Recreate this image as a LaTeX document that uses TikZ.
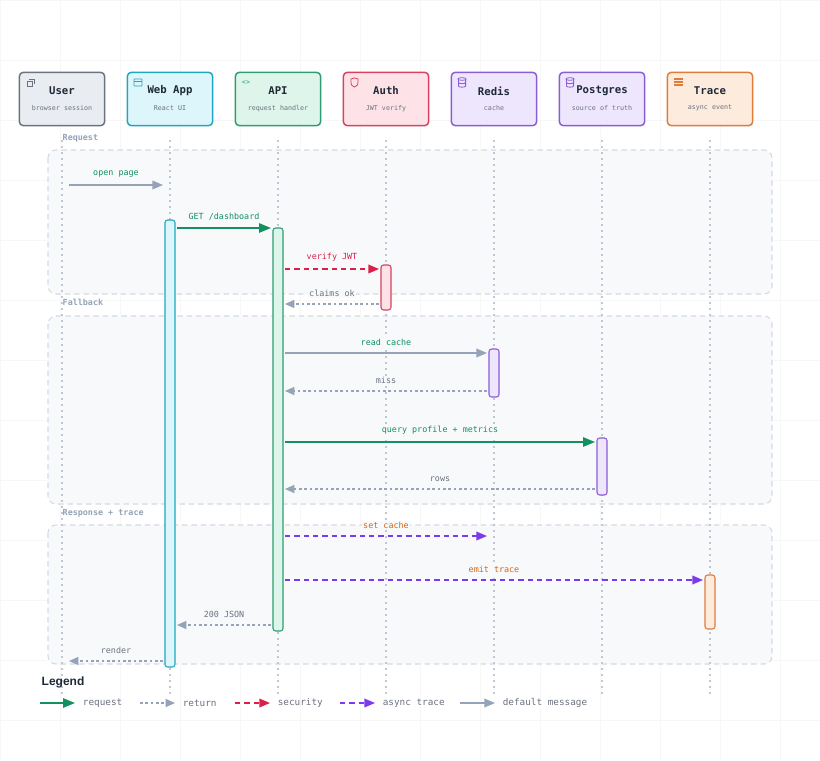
\documentclass[tikz,border=0pt]{standalone}
\usepackage{fontspec}
\setmainfont{DejaVu Sans Mono}
\newfontfamily\legendfont{Liberation Sans}
\usepackage{tikz}
\usetikzlibrary{positioning,arrows.meta}

\definecolor{ink}{HTML}{1F2937}
\definecolor{muted}{HTML}{6B7280}
\definecolor{slate}{HTML}{94A3B8}
\definecolor{usr}{HTML}{6B7280}   \definecolor{usrbg}{HTML}{E9ECF1}
\definecolor{web}{HTML}{22A6C0}   \definecolor{webbg}{HTML}{DDF6FB}
\definecolor{api}{HTML}{2E9E72}   \definecolor{apibg}{HTML}{DDF5EA}
\definecolor{auth}{HTML}{D9415F}  \definecolor{authbg}{HTML}{FDE3E8}
\definecolor{db}{HTML}{8B5CD6}    \definecolor{dbbg}{HTML}{EDE6FD}
\definecolor{trc}{HTML}{E07B3A}   \definecolor{trcbg}{HTML}{FDEBDD}
\definecolor{req}{HTML}{12905E}
\definecolor{sec}{HTML}{DC1F4A}
\definecolor{asy}{HTML}{7C3AED}
\definecolor{warm}{HTML}{D9650F}
\definecolor{grpbg}{HTML}{F7F9FB}

\begin{document}
\begin{tikzpicture}[%
    x=0.75pt,
    y=-0.75pt,
    >=Triangle,
    actor/.style={%
      draw,
      line width=1.1pt,
      rounded corners=3pt,
      minimum width=64pt,
      minimum height=40pt
    },
    title/.style={font=\bfseries\fontsize{8}{9}\selectfont, text=ink},
    sub/.style={font=\fontsize{5}{6}\selectfont, text=muted},
    lifeline/.style={slate!60, line width=0.9pt, dash pattern=on 1.5pt off 3pt},
    group/.style={draw=slate!40, fill=grpbg, line width=0.8pt, dash pattern=on 4pt off 3pt, rounded corners=6pt},
    grouplabel/.style={font=\bfseries\fontsize{6.3}{7}\selectfont, text=slate, anchor=west},
    act/.style={line width=0.8pt, rounded corners=2pt},
    lbl/.style={font=\fontsize{6.3}{7}\selectfont, fill=grpbg, inner sep=1pt},
    request/.style={->, req, line width=1.3pt, -{Triangle[length=9pt,width=7pt]}},
    return/.style={->, slate, line width=1pt, dash pattern=on 2pt off 2pt, -{Triangle[length=7pt,width=6pt]}},
    security/.style={->, sec, line width=1.1pt, dash pattern=on 4pt off 3pt, -{Triangle[length=8pt,width=6.5pt]}},
    async/.style={->, asy, line width=1.1pt, dash pattern=on 4pt off 3pt, -{Triangle[length=8pt,width=6.5pt]}},
    plain/.style={->, slate, line width=1.1pt, -{Triangle[length=8pt,width=6.5pt]}}
  ]
    % background
    \fill[white] (0,0) rectangle (820,760);
    \useasboundingbox (0,0) rectangle (820,760);
    \foreach \gx in {0,60,...,780} \draw[black!3] (\gx,0) -- (\gx,760);
    \foreach \gy in {0,60,...,720} \draw[black!3] (0,\gy) -- (820,\gy);

    % groups
    \draw[group] (48,150) rectangle (772,294);
    \draw[group] (48,316) rectangle (772,504);
    \draw[group] (48,525) rectangle (772,664);
    \node[grouplabel] (gReq)  at (58,138) {Request};
    \node[grouplabel] (gFall) at (58,302) {Fallback};
    \node[grouplabel] (gResp) at (58,513) {Response + trace};

    % lifelines
    \foreach \lx in {62,170,278,386,494,602,710}
      \draw[lifeline] (\lx,140) -- (\lx,695);

    % actors
    \node[actor, draw=usr,  fill=usrbg]  (user) at (62,99)  {};
    \node[actor, draw=web,  fill=webbg]  (web)  at (170,99) {};
    \node[actor, draw=api,  fill=apibg]  (api)  at (278,99) {};
    \node[actor, draw=auth, fill=authbg] (auth) at (386,99) {};
    \node[actor, draw=db,   fill=dbbg]   (redis) at (494,99) {};
    \node[actor, draw=db,   fill=dbbg]   (pg)   at (602,99) {};
    \node[actor, draw=trc,  fill=trcbg]  (trace) at (710,99) {};
    \foreach \n/\t/\s in {user/User/browser session, web/Web App/React UI, api/API/request handler,
        auth/Auth/JWT verify, redis/Redis/cache, pg/Postgres/source of truth, trace/Trace/async event}{
      \node[title] at ([yshift=6pt]\n.center) {\t};
      \node[sub]   at ([yshift=-7pt]\n.center) {\s};
    }
    % icons
    \draw[usr, line width=0.6pt] (27,81) rectangle (32,86) (29,79) -- (34,79) -- (34,84);
    \draw[web, line width=0.6pt, rounded corners=0.5pt] (134,79) rectangle (142,86) (134,81.5) -- (142,81.5);
    \node[text=api, font=\fontsize{5}{5}\selectfont] at (246,83) {<>};
    \draw[auth, line width=0.6pt] (351,79) -- (354.5,78) -- (358,79) -- (358,82) .. controls (358,85) .. (354.5,87) .. controls (351,85) .. (351,82) -- cycle;
    \foreach \ix in {462,570}
      \draw[db, line width=0.6pt] (\ix,79) ellipse (3pt and 1pt) (\ix-3.6,79) -- (\ix-3.6,86) arc[start angle=180,end angle=360,x radius=3.6,y radius=-1.2] -- (\ix+3.6,79) (\ix-3.6,82.5) arc[start angle=180,end angle=360,x radius=3.6,y radius=-1.2];
    \foreach \iy in {79,82,85} \draw[trc, line width=0.8pt] (674,\iy) -- (683,\iy);

    % activations
    \draw[act, draw=web,  fill=webbg]  (165,220) rectangle (175,667);
    \draw[act, draw=api,  fill=apibg]  (273,228) rectangle (283,631);
    \draw[act, draw=auth, fill=authbg] (381,265) rectangle (391,310);
    \draw[act, draw=db,   fill=dbbg]   (489,349) rectangle (499,397);
    \draw[act, draw=db,   fill=dbbg]   (597,438) rectangle (607,495);
    \draw[act, draw=trc,  fill=trcbg]  (705,575) rectangle (715,629);

    % message end points
    \foreach \m/\ya in {a/185,b/228,c/269,d/304,e/353,f/391,g/442,h/489,i/536,j/580,k/625,l/661}{
      \coordinate (u\m) at (69,\ya);  \coordinate (w\m) at (163,\ya);
      \coordinate (wr\m) at (177,\ya); \coordinate (p\m) at (285,\ya);
      \coordinate (pl\m) at (271,\ya); \coordinate (au\m) at (379,\ya);
      \coordinate (r\m) at (487,\ya); \coordinate (s\m) at (595,\ya);
      \coordinate (t\m) at (703,\ya);
    }

    % messages
    \draw[plain]    (ua) -- node[lbl, text=req, above=4pt] {open page} (wa);
    \draw[request]  (wrb) -- node[lbl, text=req, above=4pt] {GET /dashboard} (plb);
    \draw[security] (pc) -- node[lbl, text=sec, above=4pt] {verify JWT} (auc);
    \draw[return]   (aud) -- node[lbl, text=muted, above=4pt] {claims ok} (pd);
    \draw[plain]    (pe) -- node[lbl, text=req, above=4pt] {read cache} (re);
    \draw[return]   (rf) -- node[lbl, text=muted, above=4pt] {miss} (pf);
    \draw[request]  (pg) -- node[lbl, text=req, above=4pt] {query profile + metrics} (sg);
    \draw[return]   (sh) -- node[lbl, text=muted, above=4pt] {rows} (ph);
    \draw[async]    (pi) -- node[lbl, text=warm, above=4pt] {set cache} (ri);
    \draw[async]    (pj) -- node[lbl, text=warm, above=4pt] {emit trace} (tj);
    \draw[return]   (plk) -- node[lbl, text=muted, above=4pt] {200 JSON} (wrk);
    \draw[return]   (wl) -- node[lbl, text=muted, above=4pt] {render} (ul);

    % legend
    \node[font=\legendfont\bfseries\fontsize{9}{10}\selectfont, text=ink, anchor=west] (leg) at (37,682) {Legend};
    \coordinate (k1a) at (40,703);  \coordinate (k1b) at (75,703);
    \coordinate (k2a) at (140,703); \coordinate (k2b) at (175,703);
    \coordinate (k3a) at (235,703); \coordinate (k3b) at (270,703);
    \coordinate (k4a) at (340,703); \coordinate (k4b) at (375,703);
    \coordinate (k5a) at (460,703); \coordinate (k5b) at (495,703);
    \draw[request]  (k1a) -- (k1b) node[font=\fontsize{7}{8}\selectfont, text=muted, right=2pt] {request};
    \draw[return]   (k2a) -- (k2b) node[font=\fontsize{7}{8}\selectfont, text=muted, right=2pt] {return};
    \draw[security] (k3a) -- (k3b) node[font=\fontsize{7}{8}\selectfont, text=muted, right=2pt] {security};
    \draw[async]    (k4a) -- (k4b) node[font=\fontsize{7}{8}\selectfont, text=muted, right=2pt] {async trace};
    \draw[plain]    (k5a) -- (k5b) node[font=\fontsize{7}{8}\selectfont, text=muted, right=2pt] {default message};
  \end{tikzpicture}
\end{document}
